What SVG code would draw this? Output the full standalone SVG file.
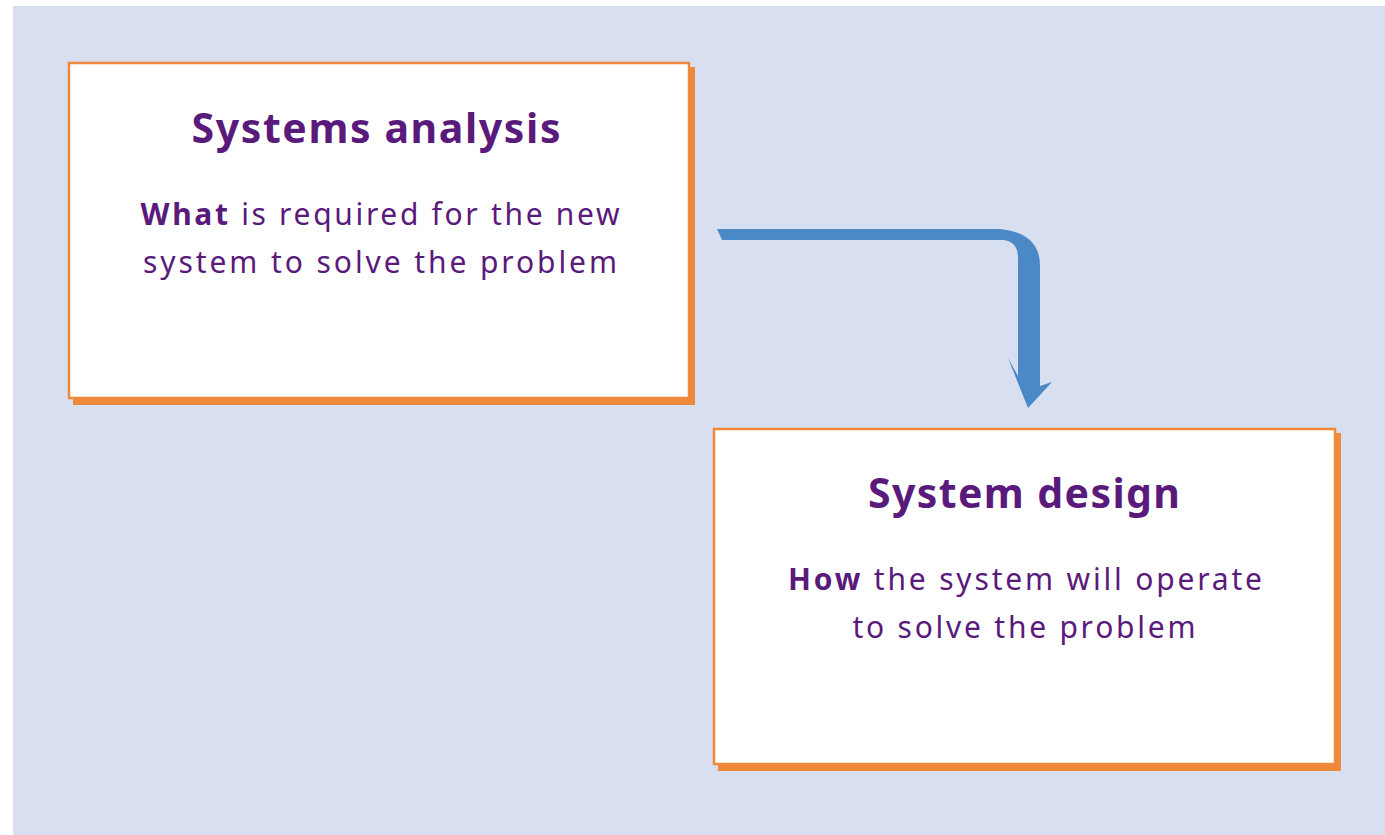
<svg xmlns="http://www.w3.org/2000/svg" width="1385" height="835" viewBox="0 0 1385 835">
<style>
.title{font-family:"Noto Sans","Liberation Sans",sans-serif;font-weight:bold;font-size:41px;fill:#5a1a7c;text-anchor:middle}
.body{font-family:"Noto Sans","Liberation Sans",sans-serif;font-size:30px;fill:#5a1a7c;text-anchor:middle}
.b{font-weight:bold}
.box{fill:#ffffff;stroke:#f0883c;stroke-width:2.5}
.shadow{fill:#f0883c}
</style>
<rect x="0" y="0" width="1385" height="835" fill="#ffffff"/>
<rect x="13" y="6" width="1372" height="829" fill="#d8dff0"/>
<g id="node-analysis">
<rect class="shadow" x="73" y="67" width="622" height="338"/>
<rect class="box" x="69" y="63" width="620" height="335"/>
<text class="title" x="376" y="143" textLength="369" lengthAdjust="spacing">Systems analysis</text>
<text class="body" x="380" y="225" textLength="479" lengthAdjust="spacing"><tspan class="b">What</tspan> is required for the new</text>
<text class="body" x="380" y="273" textLength="474" lengthAdjust="spacing">system to solve the problem</text>
</g>
<g id="node-design">
<rect class="shadow" x="718" y="433" width="623" height="338"/>
<rect class="box" x="714" y="429" width="621" height="335"/>
<text class="title" x="1024" y="508" textLength="312" lengthAdjust="spacing">System design</text>
<text class="body" x="1025" y="590" textLength="474" lengthAdjust="spacing"><tspan class="b">How</tspan> the system will operate</text>
<text class="body" x="1024" y="638" textLength="343" lengthAdjust="spacing">to solve the problem</text>
</g>
<g id="connectors">
<path d="M717,229 L1000,229 Q1040,233 1040,266 L1040,386 L1052,382 L1028,408 L1008,358 L1018,376 L1018,258 Q1018,242 1004,240 L722,240 Z" fill="#4a88c6"/>
</g>
</svg>
